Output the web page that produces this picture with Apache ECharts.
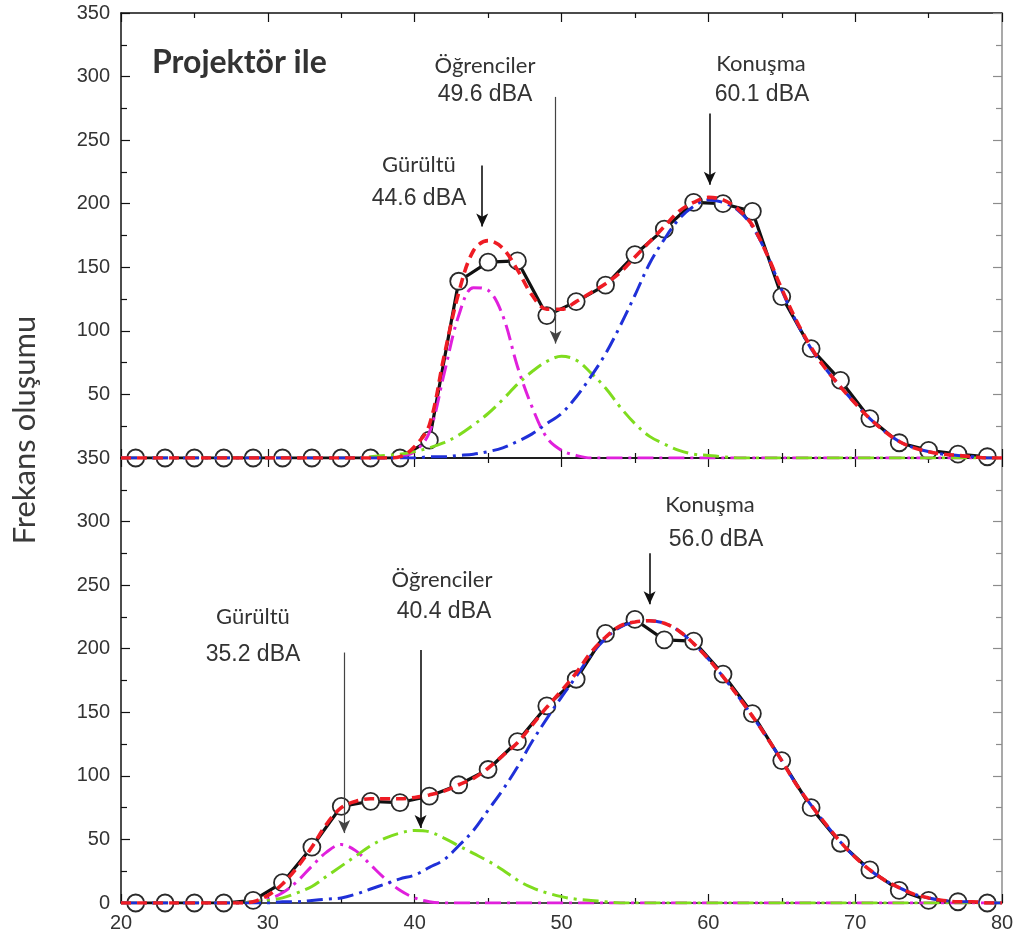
<!DOCTYPE html>
<html>
<head>
<meta charset="utf-8">
<script src="https://cdn.jsdelivr.net/npm/echarts@6/dist/echarts.min.js"></script>
<style>
  html, body { margin: 0; padding: 0; background: #fff; }
  #chart { width: 1018px; height: 938px; }
</style>
</head>
<body>
<div id="chart"></div>
<script>
// Sound level grid (dBA) for the fitted curves
const levels = [20,21,22,23,24,25,26,27,28,29,30,31,32,33,34,35,36,37,38,39,40,
                41,42,43,44,45,46,47,48,49,50,51,52,53,54,55,56,57,58,59,60,
                61,62,63,64,65,66,67,68,69,70,71,72,73,74,75,76,77,78,79,80];
// Sound levels of the measured histogram bins
const binLevels = [21,23,25,27,29,31,33,35,37,39,41,43,45,47,49,51,53,55,57,59,
                   61,63,65,67,69,71,73,75,77,79];

// --- Upper panel: "Projektör ile" ---
const projMeasured = [0,0,0,0,0,0,0,0,0,0,14,139,154,155,112,123,136,160,180,201,
                      200,194,127,86,61,31,12,6,3,1];
const projTotal = [0,0,0,0,0,0,0,0,0,0,0,0,0,0,0,0,0,0,0,1,9,
                   26,80,130,163,171,165,148,128,117,117,123,130,137,146,158,170,182,194,201,205,
                   203,196,183,160,133,108,87,70,56,43,31,21,13,8,5,3,2,1,0,0];
const projNoise = [0,0,0,0,0,0,0,0,0,0,0,0,0,0,0,0,0,0,0,1,5,
                   20,66,112,134,132,112,72,40,16,6,2,0,0,0,0,0,0,0,0,0,
                   0,0,0,0,0,0,0,0,0,0,0,0,0,0,0,0,0,0,0,0];
const projStudents = [0,0,0,0,0,0,0,0,0,0,0,0,0,0,0,0,0,1,2,3,5,
                      8,12,18,26,35,46,58,68,76,80,77,67,55,40,27,17,11,6,3,2,
                      1,0,0,0,0,0,0,0,0,0,0,0,0,0,0,0,0,0,0,0];
const projSpeech = [0,0,0,0,0,0,0,0,0,0,0,0,0,0,0,0,0,0,0,0,0,
                    1,1,2,3,5,8,13,19,27,35,48,64,82,104,128,153,172,188,198,203,
                    201,195,182,160,132,107,86,70,56,43,31,21,13,8,5,3,2,1,0,0];

// --- Lower panel ---
const lowMeasured = [0,0,0,0,2,16,44,76,80,79,84,93,105,127,155,176,212,223,207,206,
                     180,149,112,75,47,26,10,2,1,0];
const lowTotal = [0,0,0,0,0,0,0,0,0,1,6,
                  15,28,44,62,75,80,82,82,82,83,
                  85,88,93,98,106,116,126,140,154,167,
                  181,197,209,218,221,222,220,214,204,192,
                  178,163,147,130,112,93,77,62,48,36,
                  26,18,12,7,4,2,1,1,0,0];
const lowNoise = [0,0,0,0,0,0,0,0,0,1,3,
                  8,17,29,40,46,41,30,19,10,4,
                  1,0,0,0,0,0,0,0,0,0,
                  0,0,0,0,0,0,0,0,0,0,
                  0,0,0,0,0,0,0,0,0,0,
                  0,0,0,0,0,0,0,0,0,0];
const lowStudents = [0,0,0,0,0,0,0,0,0,1,2,
                     4,8,13,21,29,37,45,51,55,57,
                     56,51,45,39,33,26,18,12,8,5,
                     3,2,1,0,0,0,0,0,0,0,
                     0,0,0,0,0,0,0,0,0,0,
                     0,0,0,0,0,0,0,0,0,0];
const lowSpeech = [0,0,0,0,0,0,0,0,0,0,0,
                   1,1,2,3,4,7,11,15,19,22,
                   28,34,45,57,73,89,107,127,145,162,
                   178,195,208,217,221,222,220,214,204,192,
                   178,163,147,130,112,93,77,62,48,36,
                   26,18,12,7,4,2,1,1,0,0];

// Component peak levels stated in the annotations (dBA)
const projPeaks = { noise: 44.6, students: 49.6, speech: 60.1 };
const lowPeaks  = { noise: 35.2, students: 40.4, speech: 56.0 };

const yTicks = { min: 0, max: 350, step: 50 };
const xTicks = { min: 20, max: 80, step: 10 };

const pairs = (xs, ys) => xs.map((x, i) => [x, ys[i]]);

const COLORS = { measured: '#111111', total: '#ee1c24', noise: '#e020dc', students: '#7fdc1e', speech: '#1f30d8' };
const dashDot = [16, 6, 3, 6];
const dashed = [10, 6];

function fitSeries(name, data, color, grid, type, width, z) {
  return {
    name, type: 'line', data: pairs(levels, data),
    xAxisIndex: grid * 2, yAxisIndex: grid * 2,
    showSymbol: false, symbol: 'none', smooth: 0.35,
    lineStyle: { color, width, type },
    z, silent: true
  };
}

function arrow(x, yFrom, yTo, thin) {
  const ls = { color: thin ? '#444' : '#111', width: thin ? 1.2 : 1.6, type: 'solid' };
  return [{ coord: [x, yFrom], lineStyle: ls }, { coord: [x, yTo], lineStyle: ls }];
}

function measuredSeries(data, grid, arrows) {
  return {
    name: 'Ölçüm', type: 'line', data: pairs(binLevels, data),
    xAxisIndex: grid * 2, yAxisIndex: grid * 2,
    symbol: 'circle', symbolSize: 17, showAllSymbol: true,
    itemStyle: { color: '#ffffff', borderColor: '#2a2a2a', borderWidth: 1.8 },
    lineStyle: { color: COLORS.measured, width: 3.2 },
    z: 2, silent: true,
    markLine: {
      silent: true, animation: false,
      symbol: ['none', 'arrow'], symbolSize: [9, 13],
      label: { show: false },
      data: arrows
    }
  };
}

function xAxisPair(grid, showLabels) {
  const common = {
    type: 'value', gridIndex: grid, min: xTicks.min, max: xTicks.max, interval: xTicks.step,
    splitLine: { show: false },
    axisLine: { show: true, onZero: false, lineStyle: { color: '#111', width: 1.5 } },
    axisTick: { show: true, inside: true, length: 9, lineStyle: { color: '#111', width: 1.2 } },
    minorTick: { show: true, splitNumber: 2, length: 5, lineStyle: { color: '#111', width: 1.2 } }
  };
  return [
    Object.assign({}, common, {
      position: 'bottom',
      axisLabel: showLabels
        ? { show: true, fontSize: 20, color: '#333', margin: 10, fontFamily: 'Liberation Sans' }
        : { show: false }
    }),
    Object.assign({}, common, { position: 'top', axisLabel: { show: false } })
  ];
}

function yAxisPair(grid, hideMin) {
  const common = {
    type: 'value', gridIndex: grid, min: yTicks.min, max: yTicks.max, interval: yTicks.step,
    splitLine: { show: false }
  };
  return [
    Object.assign({}, common, {
      position: 'left',
      axisLine: { show: true, onZero: false, lineStyle: { color: '#111', width: 1.5 } },
      axisTick: { show: true, inside: true, length: 9, lineStyle: { color: '#111', width: 1.2 } },
      minorTick: { show: true, splitNumber: 2, length: 6, lineStyle: { color: '#111', width: 1.2 } },
      axisLabel: { show: true, fontSize: 20, color: '#333', margin: 11, fontFamily: 'Liberation Sans',
                   showMinLabel: !hideMin, showMaxLabel: true }
    }),
    Object.assign({}, common, {
      position: 'right',
      axisLine: { show: true, onZero: false, lineStyle: { color: '#8c8c8c', width: 1.5 } },
      axisTick: { show: true, inside: true, length: 9, lineStyle: { color: '#8c8c8c', width: 1.2 } },
      minorTick: { show: true, splitNumber: 2, length: 6, lineStyle: { color: '#8c8c8c', width: 1.2 } },
      axisLabel: { show: false }
    })
  ];
}

const labelFont = "22px Lato";
const valueFont = "23px 'Liberation Sans'";
function text(str, x, y, font, align) {
  return {
    type: 'text', x, y, silent: true, z: 10,
    style: { text: str, font, fill: '#333', align: align || 'center', verticalAlign: 'middle' }
  };
}

const option = {
  animation: false,
  backgroundColor: '#ffffff',
  grid: [
    { left: 121, top: 13, width: 881, height: 445 },
    { left: 121, top: 458, width: 881, height: 445 }
  ],
  xAxis: xAxisPair(0, false).concat(xAxisPair(1, true)),
  yAxis: yAxisPair(0, true).concat(yAxisPair(1, false)),
  series: [
    fitSeries('Gürültü', projNoise, COLORS.noise, 0, dashDot, 3, 3),
    fitSeries('Öğrenciler', projStudents, COLORS.students, 0, dashDot, 3, 3),
    fitSeries('Konuşma', projSpeech, COLORS.speech, 0, dashDot, 3, 3),
    measuredSeries(projMeasured, 0, [
      arrow(projPeaks.noise, 230, 182, false),
      arrow(projPeaks.students, 284, 90, true),
      arrow(projPeaks.speech, 271, 215, false)
    ]),
    fitSeries('Toplam', projTotal, COLORS.total, 0, dashed, 3.6, 4),

    fitSeries('Gürültü', lowNoise, COLORS.noise, 1, dashDot, 3, 3),
    fitSeries('Öğrenciler', lowStudents, COLORS.students, 1, dashDot, 3, 3),
    fitSeries('Konuşma', lowSpeech, COLORS.speech, 1, dashDot, 3, 3),
    measuredSeries(lowMeasured, 1, [
      arrow(lowPeaks.noise, 197, 55, true),
      arrow(lowPeaks.students, 199, 59, false),
      arrow(lowPeaks.speech, 275, 235, false)
    ]),
    fitSeries('Toplam', lowTotal, COLORS.total, 1, dashed, 3.6, 4)
  ],
  graphic: [
    {
      type: 'text', x: 25, y: 430, rotation: Math.PI / 2, silent: true,
      style: { text: 'Frekans oluşumu', font: "31px Lato", fill: '#3a3a3a', align: 'center', verticalAlign: 'middle' }
    },
    text('Projektör ile', 152, 63, "bold 32px Lato", 'left'),
    text('Öğrenciler', 485, 66, labelFont),
    text(projPeaks.students.toFixed(1) + ' dBA', 485, 95, valueFont),
    text('Gürültü', 419, 165, labelFont),
    text(projPeaks.noise.toFixed(1) + ' dBA', 419, 199, valueFont),
    text('Konuşma', 761, 64, labelFont),
    text(projPeaks.speech.toFixed(1) + ' dBA', 762, 95, valueFont),

    text('Konuşma', 710, 505, labelFont),
    text(lowPeaks.speech.toFixed(1) + ' dBA', 716, 540, valueFont),
    text('Öğrenciler', 442, 580, labelFont),
    text(lowPeaks.students.toFixed(1) + ' dBA', 444, 612, valueFont),
    text('Gürültü', 253, 617, labelFont),
    text(lowPeaks.noise.toFixed(1) + ' dBA', 253, 655, valueFont)
  ]
};

const chart = echarts.init(document.getElementById('chart'), null, { renderer: 'canvas' });
chart.setOption(option);
</script>
</body>
</html>
